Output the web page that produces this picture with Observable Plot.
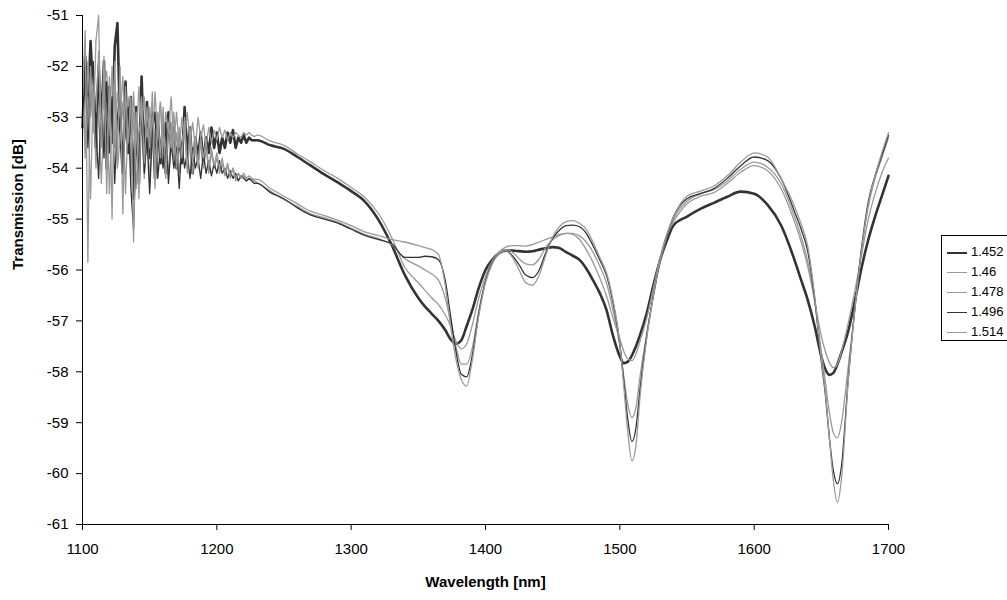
<!DOCTYPE html>
<html>
<head>
<meta charset="utf-8">
<script src="https://cdn.jsdelivr.net/npm/d3@7"></script>
<script src="https://cdn.jsdelivr.net/npm/@observablehq/plot@0.6"></script>
<style>
  html, body { margin: 0; padding: 0; background: #fff; }
  #wrap { position: relative; width: 1007px; height: 600px; overflow: hidden; font-family: "Liberation Sans", Arial, sans-serif; }
  #legend { position: absolute; left: 941px; top: 235px; width: 70px; height: 106px; border: 1px solid #000; background: #fff; box-sizing: border-box; }
  .item { position: absolute; left: 5px; height: 16px; font-size: 13px; line-height: 16px; color: #000; white-space: nowrap; }
  .item span.sw { display: inline-block; width: 20px; vertical-align: middle; margin-right: 4px; }
</style>
</head>
<body>
<div id="wrap"><div id="chart"></div><div id="legend"></div></div>
<script>
// ---- data ----
const seriesNames = ["1.452", "1.46", "1.478", "1.496", "1.514"];

// noisy region wavelengths (nm)
const noiseWl = [1100,1102,1104,1106,1108,1110,1112,1114,1116,1118,1120,1122,1124,1126,1128,1130,1132,1134,1136,1138,1140,1142,1144,1146,1148,1150,1152,1154,1156,1158,1160,1162,1164,1166,1168,1170,1172,1174,1176,1178,1180,1182,1184,1186,1188,1190,1192,1194,1196,1198,1200,1202,1204,1206,1208,1210,1212,1214,1216,1218,1220,1222,1224,1226,1228];
// smooth region wavelengths (nm)
const smoothWl = [1230,1240,1250,1260,1270,1280,1290,1300,1310,1320,1330,1340,
  1350,1355,1360,1365,1370,
  1374,1378,1382,1386,1390,
  1395,1400,1405,1410,1415,1420,1425,1430,1435,1440,1445,1450,1455,1460,1465,1470,1475,1480,1485,1490,1495,1500,
  1503,1506,1509,1512,1515,
  1520,1525,1530,1535,1540,
  1550,1560,1570,1580,1590,1600,1610,1620,1630,
  1635,1640,1645,1650,
  1653,1656,1659,1662,1665,
  1670,1675,1680,1685,1690,1695,1700];

// transmission [dB], noisy part
const n1452 = [-53.2,-51.8,-52.9,-51.5,-52.6, -53.6,-52.0,-53.1,-51.9,-54.0, -52.4,-53.5,-51.6,-51.15,-53.2, -54.1,-52.3,-53.7,-52.6,-54.6, -52.8,-54.3,-52.2,-53.9,-52.7, -53.8,-52.9,-54.2,-53.0,-53.9, -53.1,-54.1,-52.9,-53.6,-53.2, -54.0,-53.3,-53.9,-52.8,-53.7, -53.2,-54.1,-53.4,-53.8,-53.3, -53.9,-53.4,-53.7,-53.2,-53.6, -53.3,-53.7,-53.4,-53.6,-53.3, -53.5,-53.25,-53.6,-53.4,-53.5, -53.35,-53.5,-53.4,-53.45,-53.45];
const n1460 = [-52.3,-53.8,-51.9,-53.0,-52.2, -52.9,-51.7,-53.5,-52.4,-52.1, -53.3,-52.0,-53.6,-52.5,-53.0, -52.2,-53.4,-52.6,-53.9,-52.5, -53.5,-52.4,-53.2,-52.6,-53.7, -52.8,-53.5,-52.5,-53.4,-52.7, -53.6,-52.9,-53.3,-52.6,-53.5, -52.9,-53.6,-53.0,-53.4,-52.9, -53.5,-53.1,-53.6,-53.0,-53.4, -53.15,-53.55,-53.2,-53.5,-53.25, -53.45,-53.2,-53.4,-53.25,-53.45, -53.3,-53.4,-53.3,-53.35,-53.4, -53.3,-53.35,-53.3,-53.35,-53.38];
const n1478 = [-52.0,-53.5,-52.6,-54.6,-52.4, -54.0,-52.8,-54.3,-53.0,-52.5, -54.5,-53.1,-52.2,-54.0,-53.4, -52.7,-54.5,-53.0,-54.0,-52.9, -54.4,-53.3,-53.0,-54.2,-53.2, -54.3,-53.0,-54.0,-53.2,-52.7, -53.9,-53.4,-54.2,-53.1,-53.8, -53.3,-54.1,-53.5,-53.2,-54.0, -53.5,-54.1,-53.6,-53.9,-53.4, -54.0,-53.6,-54.1,-53.7,-54.0, -53.8,-54.1,-53.9,-54.15,-53.95, -54.2,-54.0,-54.25,-54.1,-54.2, -54.15,-54.25,-54.2,-54.22,-54.25];
const n1496 = [-53.0,-52.1,-53.6,-52.5,-51.9, -53.2,-54.2,-52.7,-53.8,-52.3, -53.7,-52.6,-54.3,-53.0,-52.5, -54.0,-53.2,-52.8,-54.4,-55.2, -53.5,-54.0,-52.9,-54.1,-53.4, -54.5,-53.3,-52.9,-54.2,-53.6, -54.0,-53.1,-54.3,-53.5,-54.0, -53.6,-54.4,-53.5,-54.0,-53.7, -54.2,-53.6,-54.0,-53.8,-54.2, -53.7,-54.1,-53.85,-54.15,-53.9, -54.1,-53.85,-54.1,-54.0,-54.2, -54.05,-54.2,-54.1,-54.25,-54.15, -54.2,-54.25,-54.2,-54.25,-54.3];
const n1514 = [-52.6,-51.3,-55.85,-52.0,-53.3, -51.5,-51.0,-53.6,-51.8,-54.5, -52.2,-55.0,-51.9,-53.8,-52.0, -54.9,-52.4,-53.5,-52.6,-55.45, -52.9,-54.6,-52.6,-53.9,-52.8, -53.6,-52.5,-54.4,-52.9,-53.8, -52.8,-54.2,-53.1,-53.6,-52.9, -54.0,-53.2,-53.8,-53.0,-54.1, -53.2,-53.9,-53.4,-54.0,-53.5, -53.8,-53.45,-54.0,-53.6,-53.95, -53.7,-54.0,-53.8,-54.1,-53.9, -54.15,-54.0,-54.2,-54.1,-54.2, -54.1,-54.2,-54.15,-54.2,-54.22];

// transmission [dB], smooth part
const c1452 = [-53.45,-53.55,-53.62,-53.78,-53.95,-54.12,-54.28,-54.45,-54.65,-55.0,-55.5,-56.1,
  -56.55,-56.72,-56.86,-57.0,-57.18,
  -57.36,-57.45,-57.38,-57.1,-56.8,
  -56.35,-56.0,-55.8,-55.67,-55.62,-55.62,-55.63,-55.64,-55.63,-55.6,-55.57,-55.55,-55.57,-55.65,-55.72,-55.8,-55.97,-56.2,-56.45,-56.78,-57.3,-57.7,
  -57.83,-57.8,-57.68,-57.5,-57.28,
  -56.85,-56.3,-55.8,-55.42,-55.12,
  -54.95,-54.8,-54.68,-54.56,-54.46,-54.5,-54.72,-55.12,-55.8,
  -56.2,-56.6,-57.1,-57.7,
  -57.95,-58.06,-58.02,-57.85,-57.62,
  -57.2,-56.6,-55.95,-55.4,-54.95,-54.55,-54.15];
const c1460 = [-53.35,-53.47,-53.55,-53.72,-53.88,-54.05,-54.2,-54.38,-54.57,-54.88,-55.35,-55.95,
  -56.25,-56.4,-56.55,-56.68,-56.88,
  -57.1,-57.4,-57.55,-57.45,-57.1,
  -56.55,-56.12,-55.82,-55.65,-55.55,-55.52,-55.52,-55.53,-55.5,-55.45,-55.4,-55.35,-55.3,-55.28,-55.3,-55.4,-55.6,-55.85,-56.15,-56.5,-56.95,-57.35,
  -57.6,-57.75,-57.78,-57.65,-57.4,
  -56.95,-56.35,-55.75,-55.3,-55.05,
  -54.7,-54.55,-54.48,-54.3,-54.08,-53.95,-54.05,-54.4,-55.05,
  -55.45,-55.95,-56.6,-57.3,
  -57.6,-57.82,-57.92,-57.85,-57.6,
  -57.05,-56.4,-55.7,-55.0,-54.5,-54.1,-53.8];
const c1478 = [-54.28,-54.45,-54.62,-54.75,-54.9,-54.97,-55.06,-55.18,-55.3,-55.38,-55.5,-55.78,
  -55.92,-56.0,-56.08,-56.2,-56.55,
  -57.0,-57.5,-57.85,-57.85,-57.55,
  -56.8,-56.2,-55.85,-55.66,-55.6,-55.65,-55.78,-55.88,-55.9,-55.78,-55.55,-55.4,-55.32,-55.28,-55.28,-55.33,-55.45,-55.65,-55.92,-56.25,-56.8,-57.5,
  -58.1,-58.65,-58.9,-58.7,-58.1,
  -57.25,-56.5,-55.85,-55.35,-55.0,
  -54.65,-54.5,-54.42,-54.25,-54.02,-53.88,-53.98,-54.3,-54.95,
  -55.35,-55.85,-56.6,-57.6,
  -58.2,-58.8,-59.2,-59.3,-59.0,
  -57.9,-56.75,-55.6,-54.75,-54.2,-53.8,-53.4];
const c1496 = [-54.3,-54.48,-54.6,-54.78,-54.92,-55.0,-55.08,-55.2,-55.32,-55.4,-55.48,-55.75,
  -55.75,-55.73,-55.74,-55.8,-56.2,
  -56.9,-57.6,-58.05,-58.1,-57.7,
  -56.85,-56.22,-55.86,-55.68,-55.62,-55.72,-55.9,-56.1,-56.15,-56.0,-55.65,-55.38,-55.22,-55.13,-55.12,-55.15,-55.28,-55.52,-55.8,-56.1,-56.65,-57.45,
  -58.2,-58.95,-59.37,-59.1,-58.35,
  -57.3,-56.5,-55.82,-55.32,-54.95,
  -54.6,-54.5,-54.4,-54.2,-53.95,-53.78,-53.85,-54.2,-54.85,
  -55.2,-55.65,-56.55,-57.8,
  -58.45,-59.3,-59.95,-60.2,-59.85,
  -58.15,-56.75,-55.55,-54.65,-54.15,-53.75,-53.35];
const c1514 = [-54.22,-54.4,-54.55,-54.7,-54.85,-54.93,-55.02,-55.13,-55.25,-55.32,-55.4,-55.45,
  -55.52,-55.56,-55.6,-55.7,-56.3,
  -57.1,-57.75,-58.15,-58.28,-57.8,
  -56.9,-56.25,-55.88,-55.68,-55.62,-55.75,-56.0,-56.25,-56.3,-56.1,-55.7,-55.35,-55.15,-55.05,-55.03,-55.08,-55.2,-55.45,-55.75,-56.05,-56.6,-57.45,
  -58.3,-59.2,-59.75,-59.45,-58.5,
  -57.35,-56.5,-55.8,-55.3,-54.95,
  -54.55,-54.45,-54.35,-54.15,-53.88,-53.7,-53.78,-54.2,-54.75,
  -55.1,-55.55,-56.5,-57.75,
  -58.4,-59.3,-60.15,-60.57,-60.1,
  -58.2,-56.75,-55.6,-54.7,-54.15,-53.7,-53.3];

const xTicks = [1100, 1200, 1300, 1400, 1500, 1600, 1700];
const yTicks = [-61, -60, -59, -58, -57, -56, -55, -54, -53, -52, -51];

// ---- build ----
const styles = {
  "1.452": {stroke: "#333333", width: 2.6},
  "1.46":  {stroke: "#999999", width: 1.3},
  "1.478": {stroke: "#999999", width: 1.3},
  "1.496": {stroke: "#333333", width: 1.3},
  "1.514": {stroke: "#999999", width: 1.3}
};
const noiseSets = [n1452, n1460, n1478, n1496, n1514];
const smoothSets = [c1452, c1460, c1478, c1496, c1514];
const noiseRows = [], smoothRows = [];
seriesNames.forEach((name, k) => {
  noiseWl.forEach((w, i) => noiseRows.push({wavelength: w, transmission: noiseSets[k][i], series: name}));
  // join: smooth part starts from last noisy point
  smoothRows.push({wavelength: noiseWl[noiseWl.length - 1], transmission: noiseSets[k][noiseWl.length - 1], series: name});
  smoothWl.forEach((w, i) => smoothRows.push({wavelength: w, transmission: smoothSets[k][i], series: name}));
  if (noiseSets[k].length !== noiseWl.length || smoothSets[k].length !== smoothWl.length) console.warn("length mismatch", name);
});

const lineMarks = [];
seriesNames.forEach(name => {
  const st = {x: "wavelength", y: "transmission", stroke: styles[name].stroke, strokeWidth: styles[name].width, strokeLinejoin: "round", strokeLinecap: "round"};
  lineMarks.push(Plot.line(noiseRows.filter(r => r.series === name), {...st, curve: "linear"}));
  lineMarks.push(Plot.line(smoothRows.filter(r => r.series === name), {...st, curve: "monotone-x"}));
});

const chart = Plot.plot({
  width: 1007,
  height: 600,
  marginLeft: 82,
  marginRight: 119,
  marginTop: 15,
  marginBottom: 76,
  style: {fontFamily: "'Liberation Sans', Arial, sans-serif", fontSize: "15px", color: "#000", background: "#fff"},
  x: {domain: [1100, 1700]},
  y: {domain: [-61, -51]},
  marks: [
    ...lineMarks,
    Plot.ruleX([1100], {stroke: "#000", strokeWidth: 1}),
    Plot.ruleY([-61], {stroke: "#000", strokeWidth: 1}),
    Plot.axisX({ticks: xTicks, tickSize: 6, tickPadding: 13, fontSize: 15, tickFormat: d => String(d), label: null, stroke: "#000"}),
    Plot.axisY({ticks: yTicks, tickSize: 6, tickPadding: 8, fontSize: 15, tickFormat: d => String(d), label: null, stroke: "#000"}),
    Plot.text(["Transmission [dB]"], {frameAnchor: "left", dx: -64, rotate: -90, fontWeight: "bold", fontSize: 15}),
    Plot.text(["Wavelength [nm]"], {frameAnchor: "bottom", dy: 62, fontWeight: "bold", fontSize: 15})
  ]
});
document.getElementById("chart").appendChild(chart);

// legend
const legend = document.getElementById("legend");
seriesNames.forEach((name, i) => {
  const d = document.createElement("div");
  d.className = "item";
  d.style.top = (8 + i * 20) + "px";
  d.innerHTML = `<span class="sw" style="border-top:${styles[name].width}px solid ${styles[name].stroke}"></span>${name}`;
  legend.appendChild(d);
});
</script>
</body>
</html>
